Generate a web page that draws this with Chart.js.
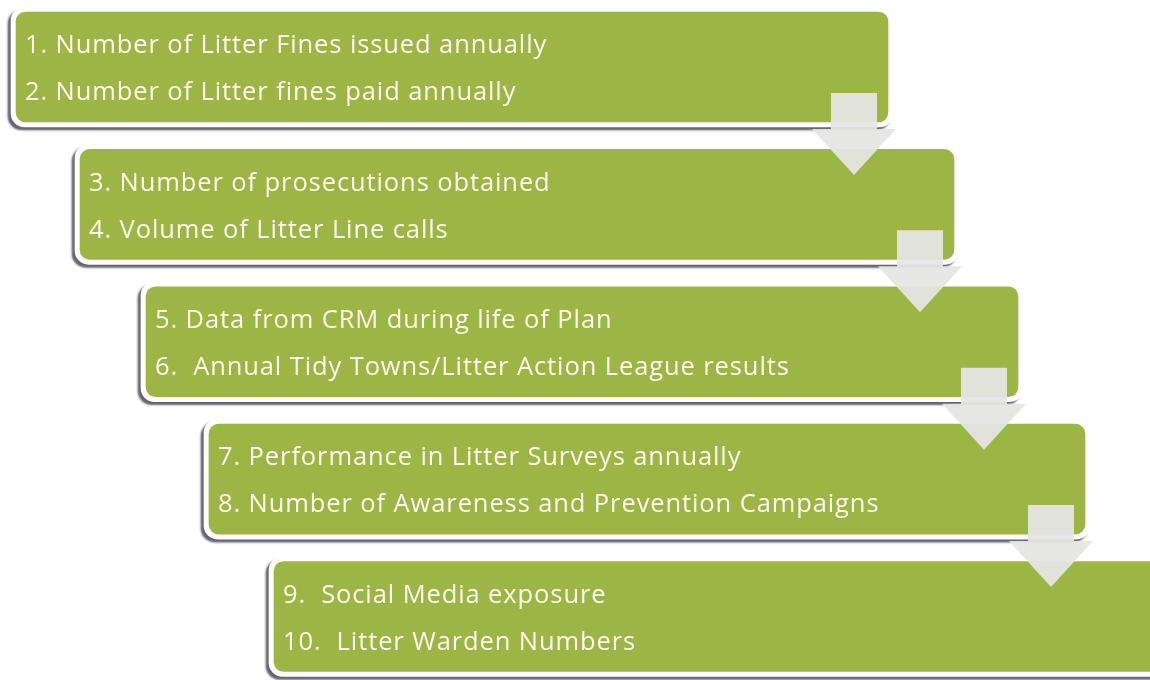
<!DOCTYPE html>
<html>
<head>
<meta charset="utf-8">
<script src="https://cdn.jsdelivr.net/npm/chart.js@4/dist/chart.umd.min.js"></script>
<style>
html,body{margin:0;padding:0;background:#ffffff;}
#wrap{width:1150px;height:680px;position:relative;}
</style>
</head>
<body>
<div id="wrap"><canvas id="c"></canvas></div>
<script>
const steps = [0, 1, 2, 3, 4];
const boxStart = [16, 80, 146, 209, 274];
const boxEnd = [888, 954, 1018, 1085, 1162];
const lineOne = [
  '1. Number of Litter Fines issued annually',
  '3. Number of prosecutions obtained',
  '5. Data from CRM during life of Plan',
  '7. Performance in Litter Surveys annually',
  '9.  Social Media exposure'
];
const lineTwo = [
  '2. Number of Litter fines paid annually',
  '4. Volume of Litter Line calls',
  '6.  Annual Tidy Towns/Litter Action League results',
  '8. Number of Awareness and Prevention Campaigns',
  '10.  Litter Warden Numbers'
];

const GREEN = '#9db544';
const RIM = 5;

const rimData = steps.map(i => ({ y: i, x: [boxStart[i] - RIM, boxEnd[i] + RIM] }));
const boxData = steps.map(i => ({ y: i, x: [boxStart[i], boxEnd[i]] }));

const shadowPlugin = {
  id: 'shadow',
  beforeDatasetDraw(chart, args) {
    if (args.index === 0) {
      const ctx = chart.ctx;
      ctx.save();
      ctx.shadowColor = 'rgba(60,60,80,0.8)';
      ctx.shadowBlur = 2;
      ctx.shadowOffsetX = -3;
      ctx.shadowOffsetY = 3;
    }
  },
  afterDatasetDraw(chart, args) {
    if (args.index === 0) chart.ctx.restore();
  }
};

const arrowPlugin = {
  id: 'arrows',
  afterDatasetsDraw(chart) {
    const ctx = chart.ctx;
    const xs = chart.scales.x, ys = chart.scales.y;
    ctx.save();
    ctx.fillStyle = 'rgba(230,230,228,0.94)';
    for (let i = 0; i < steps.length - 1; i++) {
      const r = xs.getPixelForValue(boxEnd[i]);
      const cy = ys.getPixelForValue(steps[i]);
      const cx = r - 34;
      const sw = 23, hw = 42;
      const top = cy + 26, headTop = cy + 62, tip = cy + 108;
      ctx.beginPath();
      ctx.moveTo(cx - sw, top);
      ctx.lineTo(cx + sw, top);
      ctx.lineTo(cx + sw, headTop);
      ctx.lineTo(cx + hw, headTop);
      ctx.lineTo(cx, tip);
      ctx.lineTo(cx - hw, headTop);
      ctx.lineTo(cx - sw, headTop);
      ctx.closePath();
      ctx.fill();
    }
    ctx.restore();
  }
};

const textPlugin = {
  id: 'texts',
  afterDraw(chart) {
    const ctx = chart.ctx;
    const xs = chart.scales.x, ys = chart.scales.y;
    ctx.save();
    ctx.fillStyle = '#fbfbef';
    ctx.font = '25.5px "Open Sans", sans-serif';
    ctx.letterSpacing = '0.9px';
    ctx.textBaseline = 'middle';
    ctx.textAlign = 'left';
    for (let i = 0; i < steps.length; i++) {
      const x = xs.getPixelForValue(boxStart[i]) + 9;
      const cy = ys.getPixelForValue(steps[i]);
      ctx.fillText(lineOne[i], x, cy - 21);
      ctx.fillText(lineTwo[i], x, cy + 26);
    }
    ctx.restore();
  }
};

new Chart(document.getElementById('c'), {
  type: 'bar',
  data: {
    datasets: [
      { label: 'rim', data: rimData, backgroundColor: '#ffffff', barThickness: 120, borderRadius: 14, borderSkipped: false, order: 1 },
      { label: 'box', data: boxData, backgroundColor: GREEN, barThickness: 110, borderRadius: 10, borderSkipped: false, order: 0 }
    ]
  },
  options: {
    indexAxis: 'y',
    responsive: true,
    maintainAspectRatio: false,
    animation: false,
    layout: { padding: 0 },
    datasets: { bar: { grouped: false } },
    plugins: { legend: { display: false }, tooltip: { enabled: false }, title: { display: false } },
    scales: {
      x: { type: 'linear', min: 0, max: 1150, display: false, offset: false },
      y: { type: 'linear', min: -0.4877, max: 4.4623, reverse: true, display: false, offset: false }
    }
  },
  plugins: [shadowPlugin, arrowPlugin, textPlugin]
});
</script>
</body>
</html>
